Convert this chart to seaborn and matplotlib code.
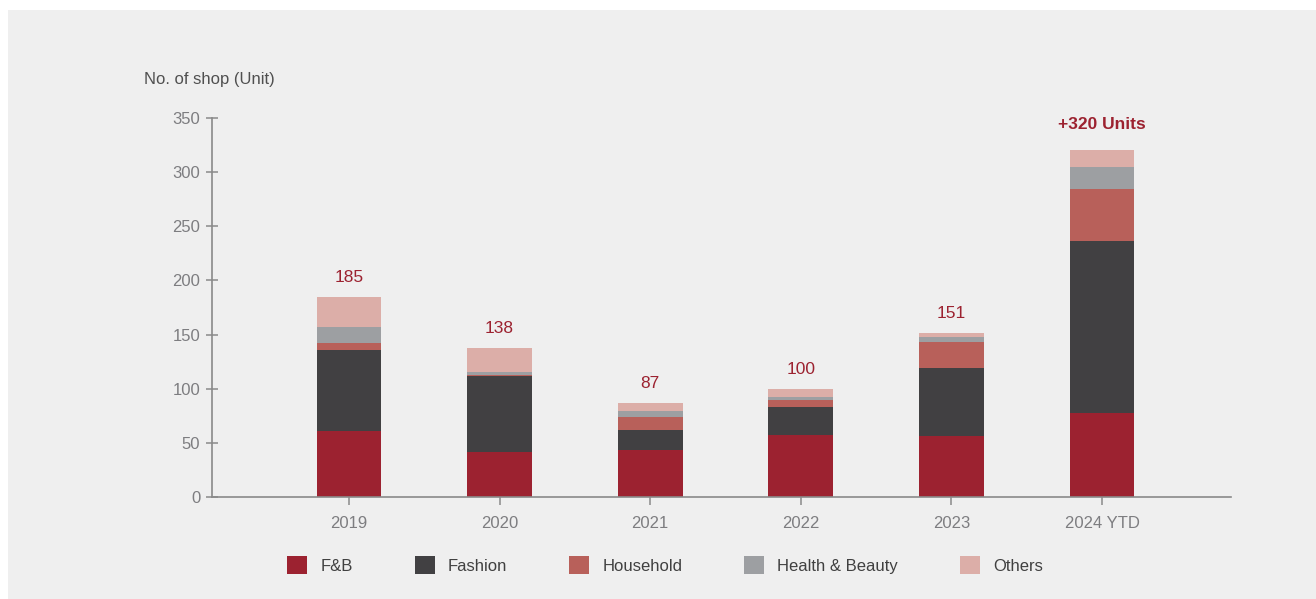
import matplotlib
matplotlib.use("Agg")
import matplotlib.pyplot as plt
import matplotlib.patches as mpatches
import pandas as pd
import seaborn as sns

# Shop openings by category, per year
years = ["2019", "2020", "2021", "2022", "2023", "2024 YTD"]
categories = ["F&B", "Fashion", "Household", "Health & Beauty", "Others"]
fnb = [61, 42, 43, 57, 56, 78]
fashion = [75, 70, 19, 26, 63, 158]
household = [6, 1, 12, 7, 24, 48]
health_beauty = [15, 2, 5, 2, 5, 21]
others = [28, 23, 8, 8, 3, 15]

colors = ["#9c2230", "#414042", "#b8605a", "#9d9fa2", "#dcaea8"]
bg = "#efefef"

sns.set_theme(style="white")
plt.rcParams["font.family"] = ["Liberation Sans", "DejaVu Sans"]

df = pd.DataFrame({"year": years, "F&B": fnb, "Fashion": fashion,
                   "Household": household, "Health & Beauty": health_beauty,
                   "Others": others})
cum = df[categories].cumsum(axis=1)
cum["year"] = years

fig = plt.figure(figsize=(13.16, 5.99), dpi=100)
fig.patch.set_facecolor("white")
fig.patches.append(mpatches.Rectangle((8 / 1316, 0), 1, 1 - 10 / 599,
                                      transform=fig.transFigure,
                                      facecolor=bg, edgecolor="none", zorder=-10))

ax = fig.add_axes([212 / 1316, 1 - 497 / 599, (1231 - 212) / 1316, (497 - 118) / 599])
ax.set_facecolor(bg)
ax.patch.set_alpha(0)

# stacked bars: draw cumulative totals from the top category down
for cat, col in reversed(list(zip(categories, colors))):
    sns.barplot(data=cum, x="year", y=cat, color=col, width=0.43,
                saturation=1, linewidth=0, edgecolor="none", ax=ax, zorder=2)

ax.set_xlim(-0.91, 5.857)
ax.set_ylim(0, 350)
ax.set_yticks(range(0, 351, 50))
ax.set_xlabel("")
ax.set_ylabel("")

for s in ["top", "right"]:
    ax.spines[s].set_visible(False)
for s in ["left", "bottom"]:
    ax.spines[s].set_color("#8a8a8a")
    ax.spines[s].set_linewidth(1.2)

ax.tick_params(axis="y", direction="inout", length=9, width=1.1, color="#8a8a8a",
               labelsize=12, labelcolor="#7d7d80", pad=4, left=True)
ax.tick_params(axis="x", direction="out", length=6, width=1.1, color="#8a8a8a",
               labelsize=12, labelcolor="#7d7d80", pad=8, bottom=True)

totals = cum["Others"].tolist()
for i, t in enumerate(totals):
    if i == len(totals) - 1:
        ax.annotate(f"+{t} Units", xy=(i, t), xytext=(0, 21), textcoords="offset pixels",
                    ha="center", va="baseline", fontsize=12.5, fontweight="bold",
                    color="#9c2230")
    else:
        ax.annotate(f"{t}", xy=(i, t), xytext=(0, 15), textcoords="offset pixels",
                    ha="center", va="baseline", fontsize=12.5, color="#9c2230")

fig.text(144 / 1316, 1 - 84 / 599, "No. of shop (Unit)", fontsize=12,
         color="#505050", ha="left", va="baseline")

handles = [mpatches.Patch(facecolor=c, edgecolor="none", label=l)
           for c, l in zip(colors, categories)]
leg = fig.legend(handles=handles, loc="center", ncol=5, frameon=False,
                 bbox_to_anchor=(665 / 1316, 1 - 565 / 599), fontsize=12,
                 handlelength=1.2, handleheight=1.2, handletextpad=0.8,
                 columnspacing=3.7)
for txt in leg.get_texts():
    txt.set_color("#404040")

fig.savefig("out.png", dpi=100, facecolor=fig.get_facecolor())
